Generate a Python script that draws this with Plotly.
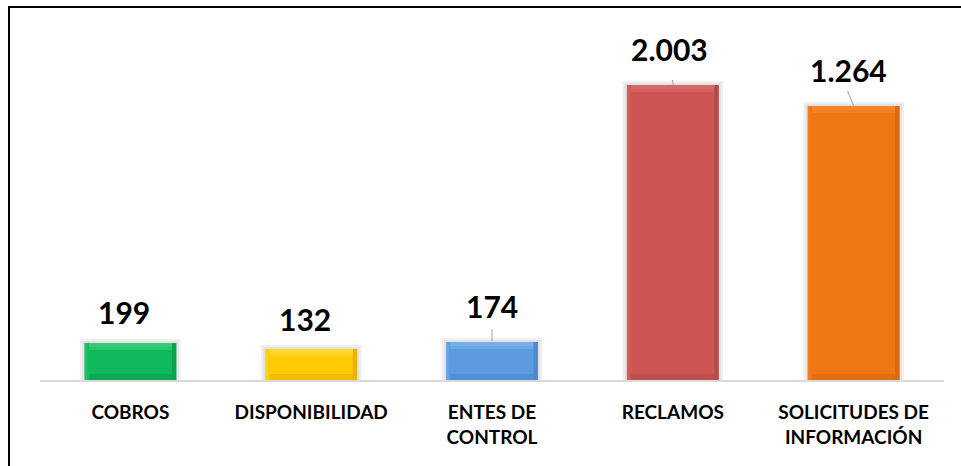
import plotly.graph_objects as go

# ---- data ----
categories = ["COBROS", "DISPONIBILIDAD", "ENTES DE CONTROL", "RECLAMOS", "SOLICITUDES DE INFORMACIÓN"]
tick_labels = ["COBROS", "DISPONIBILIDAD", "ENTES DE<br>CONTROL", "RECLAMOS", "SOLICITUDES DE<br>INFORMACIÓN"]
values = [199, 132, 174, 2003, 1264]
# drawn bar heights as they appear in the source chart (not proportional to the printed values)
bar_heights = [37, 31, 38, 295, 274]

# ---- styles ----
main_colors = ["#10b95c", "#ffcb05", "#5b9ce0", "#cd5654", "#f07513"]
light_colors = ["#3fd07f", "#ffdc45", "#7db3ec", "#d96e6c", "#f48a36"]
dark_colors = ["#0a8f46", "#d6a500", "#3f7cc0", "#a64240", "#c55e0c"]
label_yshift = [31, 30, 36, 36, 36]
label_xshift = [-6, -6, 0, -3, -5]
FONT = "Lato, 'Noto Sans', sans-serif"

W = 0.508          # bar width in category units
S = 0.024          # bevel strip width
BEV = 7            # bevel band height (data units)

fig = go.Figure()

# soft shadow
fig.add_trace(go.Bar(x=categories, y=[h + 4 for h in bar_heights], width=W + 0.05,
                     marker=dict(color="rgba(0,0,0,0.06)", line=dict(width=0)), hoverinfo="skip"))
fig.add_trace(go.Bar(x=categories, y=[h + 2 for h in bar_heights], width=W + 0.025,
                     marker=dict(color="rgba(0,0,0,0.05)", line=dict(width=0)), hoverinfo="skip"))
# main bar
fig.add_trace(go.Bar(x=categories, y=bar_heights, width=W,
                     marker=dict(color=main_colors, line=dict(width=0)),
                     customdata=values, hovertemplate="%{x}: %{customdata}<extra></extra>"))
# bevel: top highlight (two soft steps)
fig.add_trace(go.Bar(x=categories, y=[BEV] * 5, base=[h - BEV for h in bar_heights], width=W - 2 * S,
                     marker=dict(color=light_colors, opacity=0.5, line=dict(width=0)), hoverinfo="skip"))
fig.add_trace(go.Bar(x=categories, y=[BEV - 3] * 5, base=[h - BEV + 3 for h in bar_heights], width=W - 2 * S,
                     marker=dict(color=light_colors, opacity=0.55, line=dict(width=0)), hoverinfo="skip"))
# bevel: bottom shade
fig.add_trace(go.Bar(x=categories, y=[6] * 5, base=[0] * 5, width=W - 2 * S,
                     marker=dict(color=dark_colors, opacity=0.35, line=dict(width=0)), hoverinfo="skip"))
# bevel: right shade
fig.add_trace(go.Bar(x=categories, y=bar_heights, width=S, offset=W / 2 - S,
                     marker=dict(color=dark_colors, opacity=0.55, line=dict(width=0)), hoverinfo="skip"))
# bevel: left light edge
fig.add_trace(go.Bar(x=categories, y=bar_heights, width=S * 0.7, offset=-W / 2,
                     marker=dict(color=light_colors, opacity=0.35, line=dict(width=0)), hoverinfo="skip"))

annotations = []
for i, (c, v, h) in enumerate(zip(categories, values, bar_heights)):
    annotations.append(dict(
        x=c, y=h, xref="x", yref="y", text=f"{v:,}".replace(",", "."),
        showarrow=False, yanchor="middle", xanchor="center",
        yshift=label_yshift[i], xshift=label_xshift[i],
        font=dict(family=FONT, size=30, color="black", weight="bold")))

shapes = []
# leader lines (pixel offsets from the bar top)
leaders = {2: (0, 1, 0, 13), 3: (0.5, 0, -2.5, 14), 4: (0, 0, -6, 15)}
for i, (x0, y0, x1, y1) in leaders.items():
    shapes.append(dict(type="line", xref="x", yref="y", xsizemode="pixel", ysizemode="pixel",
                       xanchor=categories[i], yanchor=bar_heights[i],
                       x0=x0, y0=y0, x1=x1, y1=y1, line=dict(color="#a0a0a0", width=1)))
# chart border (cropped on right/bottom)
shapes.append(dict(type="rect", xref="paper", yref="paper", x0=-0.0343, x1=1.2, y0=-0.6, y1=1.2433,
                   line=dict(color="black", width=2), fillcolor="rgba(0,0,0,0)", layer="above"))

fig.update_layout(
    width=961, height=466,
    margin=dict(l=40, r=17, t=80, b=86),
    paper_bgcolor="white", plot_bgcolor="white",
    barmode="overlay", showlegend=False,
    annotations=annotations, shapes=shapes,
    xaxis=dict(type="category", range=[-0.5, 4.5], tickvals=categories, ticktext=tick_labels,
               showline=True, linecolor="#d9d9d9", linewidth=2, ticks="", showgrid=False,
               layer="below traces", tickangle=0, ticklabelstandoff=14,
               tickfont=dict(family=FONT, size=19, color="black", weight="bold")),
    yaxis=dict(range=[0, 300], visible=False, showgrid=False, zeroline=False),
)

fig.write_html("out.html", config={"displayModeBar": False},
               post_script="document.body.style.margin='0';")
